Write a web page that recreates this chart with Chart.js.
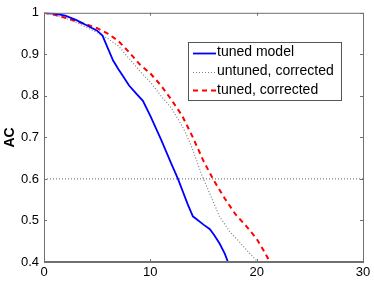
<!DOCTYPE html>
<html>
<head>
<meta charset="utf-8">
<script src="https://cdn.jsdelivr.net/npm/chart.js@4/dist/chart.umd.min.js"></script>
<style>
html,body{margin:0;padding:0;background:#fff;}
canvas{display:block;}
</style>
</head>
<body>
<canvas id="c" width="374" height="281"></canvas>
<script>
// ---- data ----
const seriesLabels = ["tuned model", "untuned, corrected", "tuned, corrected"];
const tunedX = [0, 1, 2, 3, 4, 5, 5.5, 6, 6.5, 7, 7.5, 8, 8.7, 9.3, 10, 11, 12, 12.6, 13.5, 14, 15, 15.6, 16, 16.5, 17, 17.3];
const tunedY = [1.0, 0.998, 0.993, 0.983, 0.97, 0.957, 0.945, 0.915, 0.885, 0.864, 0.845, 0.825, 0.805, 0.788, 0.752, 0.695, 0.635, 0.60, 0.54, 0.51, 0.49, 0.479, 0.465, 0.445, 0.42, 0.40];
const untunedX = [0, 1, 2, 3, 4, 5, 6, 7, 8, 9, 10, 11, 12, 13, 13.6, 14, 14.8, 15.5, 16.5, 17.5, 18.4, 19.2, 20];
const untunedY = [1.0, 0.995, 0.987, 0.977, 0.965, 0.952, 0.938, 0.92, 0.89, 0.86, 0.833, 0.80, 0.77, 0.727, 0.695, 0.67, 0.612, 0.57, 0.51, 0.472, 0.448, 0.425, 0.403];
const corrX = [0, 1, 2, 3, 4, 5, 6, 7, 8, 9, 10, 11, 12, 13, 14, 15, 16, 17, 18, 19, 20, 20.6, 21.25];
const corrY = [1.0, 0.995, 0.988, 0.98, 0.972, 0.963, 0.95, 0.932, 0.905, 0.876, 0.854, 0.825, 0.79, 0.752, 0.70, 0.643, 0.595, 0.553, 0.515, 0.487, 0.456, 0.43, 0.40];
const refLevel = 0.6;
const xTicks = [0, 10, 20, 30];
const yTicks = [0.4, 0.5, 0.6, 0.7, 0.8, 0.9, 1];
const yTitle = "AC";

function pts(xs, ys) { return xs.map((x, i) => ({x: x, y: ys[i]})); }

const AXIS_COLOR = '#707070';

const boxPlugin = {
  id: 'boxPlugin',
  afterDraw(chart) {
    const ctx = chart.ctx;
    const a = chart.chartArea;
    const xs = chart.scales.x, ys = chart.scales.y;
    ctx.save();
    ctx.strokeStyle = AXIS_COLOR;
    ctx.lineWidth = 1;
    ctx.beginPath();
    ctx.moveTo(a.left + 0.5, a.top + 0.5);
    ctx.lineTo(a.right + 0.5, a.top + 0.5);
    ctx.lineTo(a.right + 0.5, a.bottom);
    ctx.moveTo(a.left + 0.5, a.top + 0.5);
    ctx.lineTo(a.left + 0.5, a.bottom);
    ctx.stroke();
    ctx.lineWidth = 2;
    ctx.beginPath();
    ctx.moveTo(a.left, a.bottom);
    ctx.lineTo(a.right + 1, a.bottom);
    ctx.stroke();
    // inward ticks
    ctx.lineWidth = 1;
    const tl = 3;
    ctx.beginPath();
    xTicks.forEach(v => {
      const px = Math.round(xs.getPixelForValue(v)) + 0.5;
      ctx.moveTo(px, a.bottom); ctx.lineTo(px, a.bottom - tl);
      ctx.moveTo(px, a.top); ctx.lineTo(px, a.top + tl);
    });
    yTicks.forEach(v => {
      const py = Math.round(ys.getPixelForValue(v)) + 0.5;
      ctx.moveTo(a.left, py); ctx.lineTo(a.left + tl, py);
      ctx.moveTo(a.right, py); ctx.lineTo(a.right - tl, py);
    });
    ctx.stroke();

    // legend
    const lx = 188, ly = 42, lw = 153, lh = 58;
    ctx.fillStyle = '#fff';
    ctx.fillRect(lx, ly, lw, lh);
    ctx.strokeStyle = '#555';
    ctx.lineWidth = 1;
    ctx.strokeRect(lx + 0.5, ly + 0.5, lw, lh);
    ctx.font = '14px "Liberation Sans", Arial, sans-serif';
    ctx.textBaseline = 'middle';
    ctx.fillStyle = '#000';
    const rows = [52.5, 71.5, 90];
    const order = [0, 1, 2];
    order.forEach((di, i) => {
      const ds = chart.data.datasets[di];
      const y = rows[i];
      ctx.save();
      ctx.strokeStyle = ds.borderColor;
      ctx.lineWidth = ds.borderWidth;
      ctx.setLineDash(ds.borderDash || []);
      ctx.beginPath();
      ctx.moveTo(193, Math.round(y) + 0.5);
      ctx.lineTo(216, Math.round(y) + 0.5);
      ctx.stroke();
      ctx.restore();
      ctx.fillText(ds.label, 217, y);
    });
    ctx.restore();
  }
};

new Chart(document.getElementById('c'), {
  type: 'line',
  data: {
    datasets: [
      {label: seriesLabels[0], data: pts(tunedX, tunedY), borderColor: '#0000ff', borderWidth: 1.8, pointRadius: 0, tension: 0, order: 1},
      {label: seriesLabels[1], data: pts(untunedX, untunedY), borderColor: '#808080', borderWidth: 1.2, borderDash: [1, 2], pointRadius: 0, tension: 0, order: 3},
      {label: seriesLabels[2], data: pts(corrX, corrY), borderColor: '#ff0000', borderWidth: 2, borderDash: [5, 4], pointRadius: 0, tension: 0, order: 2},
      {label: 'ref', data: [{x: xTicks[0], y: refLevel}, {x: xTicks[xTicks.length - 1], y: refLevel}], borderColor: '#808080', borderWidth: 1.2, borderDash: [1, 2], pointRadius: 0, order: 4}
    ]
  },
  options: {
    responsive: false,
    animation: false,
    devicePixelRatio: 1,
    layout: {padding: {top: 10, right: 11, left: 0, bottom: 0}},
    plugins: {legend: {display: false}, tooltip: {enabled: false}},
    scales: {
      x: {
        type: 'linear', min: 0, max: 30,
        afterBuildTicks(s) { s.ticks = xTicks.map(v => ({value: v})); },
        afterFit(s) { s.height = 19; },
        grid: {display: false, drawTicks: false},
        border: {display: false},
        ticks: {color: '#000', font: {family: '"Liberation Sans", Arial, sans-serif', size: 13}, padding: 3, maxRotation: 0, autoSkip: false}
      },
      y: {
        type: 'linear', min: 0.4, max: 1,
        afterBuildTicks(s) { s.ticks = yTicks.map(v => ({value: v})); },
        afterFit(s) { s.width = 44; },
        grid: {display: false, drawTicks: false},
        border: {display: false},
        ticks: {color: '#000', font: {family: '"Liberation Sans", Arial, sans-serif', size: 13}, padding: 5,
          callback: v => String(Math.round(v * 10) / 10)},
        title: {display: true, text: yTitle, color: '#000', font: {family: '"Liberation Sans", Arial, sans-serif', size: 14, weight: 'bold'}, padding: {top: 2, bottom: 0}}
      }
    }
  },
  plugins: [boxPlugin]
});
</script>
</body>
</html>
